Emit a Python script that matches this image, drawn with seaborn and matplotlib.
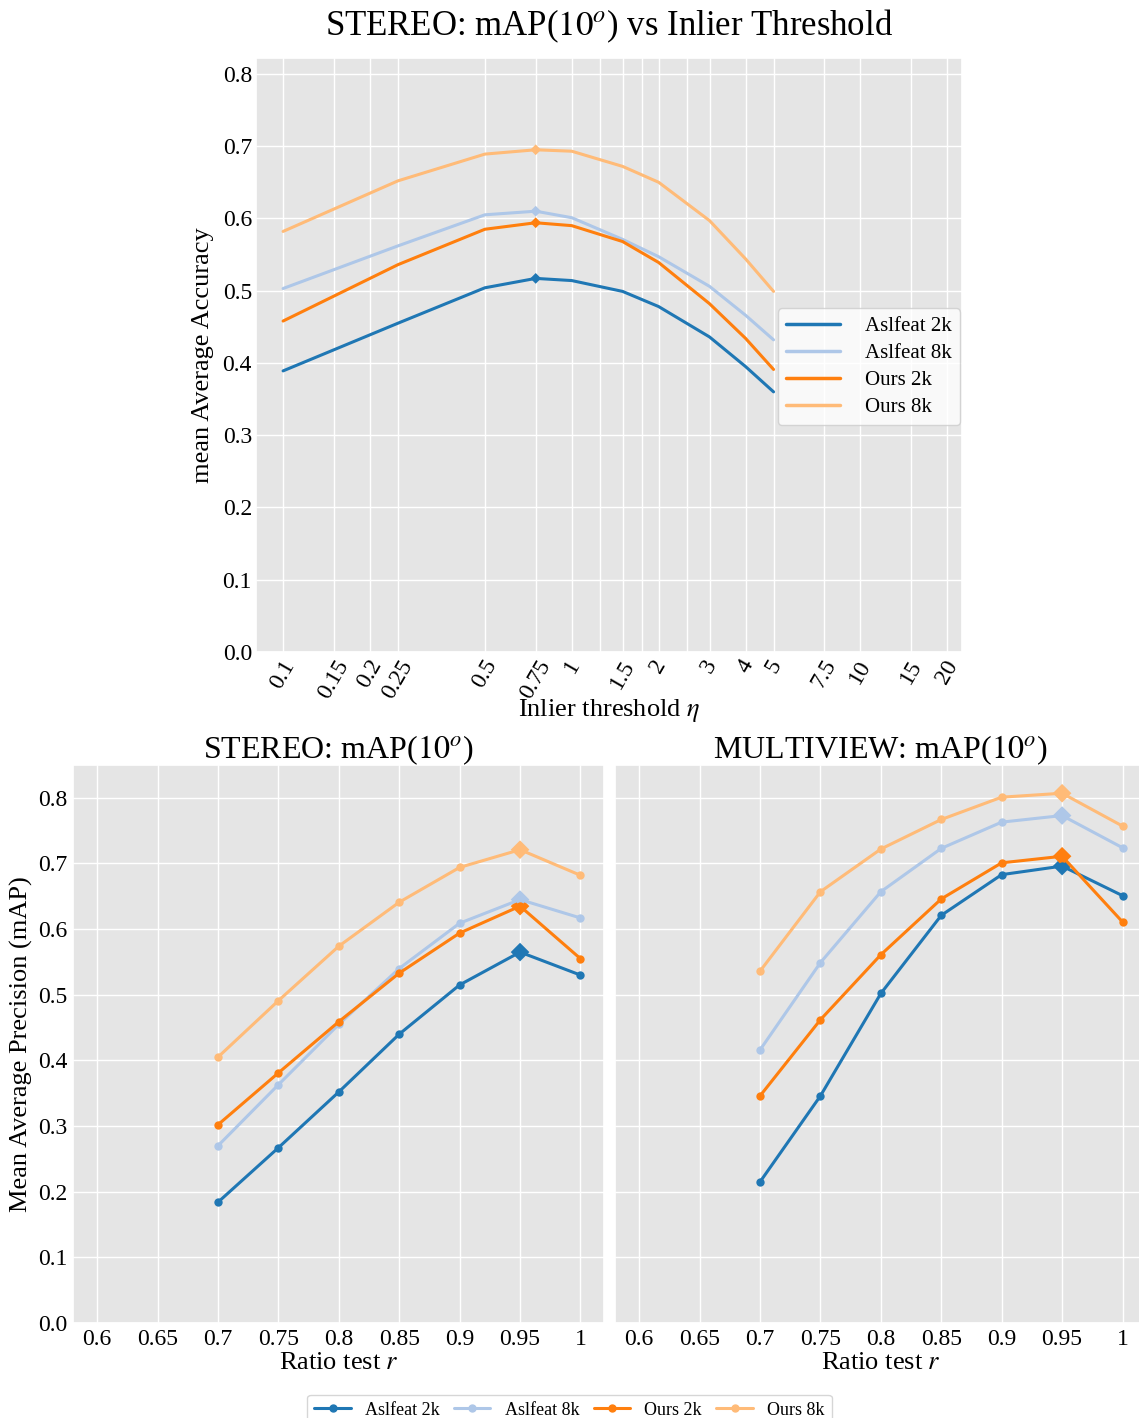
import numpy as np
import pandas as pd
import seaborn as sns
import matplotlib.pyplot as plt
from matplotlib.lines import Line2D

methods = ['Aslfeat 2k', 'Aslfeat 8k', 'Ours 2k', 'Ours 8k']
colors = ['#1f77b4', '#aec7e8', '#ff7f0e', '#ffbb78']

# inlier threshold sweep (stereo)
thr = [0.1, 0.25, 0.5, 0.75, 1, 1.5, 2, 3, 4, 5]
thr_aslfeat_2k = [0.389, 0.455, 0.504, 0.517, 0.514, 0.499, 0.478, 0.436, 0.395, 0.360]
thr_aslfeat_8k = [0.503, 0.562, 0.605, 0.610, 0.601, 0.571, 0.547, 0.506, 0.466, 0.432]
thr_ours_2k = [0.458, 0.536, 0.585, 0.594, 0.590, 0.568, 0.539, 0.482, 0.434, 0.391]
thr_ours_8k = [0.582, 0.652, 0.689, 0.695, 0.693, 0.672, 0.650, 0.597, 0.544, 0.499]

thr_ticks = [0.1, 0.15, 0.2, 0.25, 0.5, 0.75, 1, 1.25, 1.5, 1.75, 2, 2.5, 3, 4, 5, 7.5, 10, 15, 20]
thr_labels = ['0.1', '0.15', '0.2', '0.25', '0.5', '0.75', '1', '', '1.5', '', '2', '', '3', '4', '5',
              '7.5', '10', '15', '20']

# ratio test sweep
ratio = [0.7, 0.75, 0.8, 0.85, 0.9, 0.95, 1.0]
st_aslfeat_2k = [0.184, 0.267, 0.352, 0.440, 0.515, 0.565, 0.530]
st_aslfeat_8k = [0.270, 0.363, 0.455, 0.540, 0.609, 0.645, 0.617]
st_ours_2k = [0.302, 0.381, 0.459, 0.533, 0.594, 0.635, 0.555]
st_ours_8k = [0.405, 0.491, 0.574, 0.641, 0.694, 0.721, 0.682]

mv_aslfeat_2k = [0.215, 0.346, 0.502, 0.621, 0.683, 0.696, 0.651]
mv_aslfeat_8k = [0.416, 0.549, 0.657, 0.723, 0.763, 0.773, 0.724]
mv_ours_2k = [0.346, 0.462, 0.561, 0.646, 0.701, 0.711, 0.611]
mv_ours_8k = [0.536, 0.657, 0.722, 0.767, 0.801, 0.807, 0.757]

ratio_ticks = [0.6, 0.65, 0.7, 0.75, 0.8, 0.85, 0.9, 0.95, 1.0]
ratio_labels = ['0.6', '0.65', '0.7', '0.75', '0.8', '0.85', '0.9', '0.95', '1']


def long_df(x, series):
    rows = []
    for name, vals in zip(methods, series):
        for xv, yv in zip(x, vals):
            rows.append({'x': xv, 'y': yv, 'method': name})
    return pd.DataFrame(rows)


def peaks(df):
    return df.loc[df.groupby('method')['y'].idxmax()]


sns.set_theme(style='darkgrid', rc={'axes.facecolor': '#E5E5E5', 'grid.color': 'white',
                                    'grid.linewidth': 1.0})
plt.rcParams['font.family'] = ['Liberation Serif', 'DejaVu Serif']
plt.rcParams['mathtext.fontset'] = 'stix'
plt.rcParams['text.color'] = 'black'
plt.rcParams['xtick.color'] = 'black'
plt.rcParams['ytick.color'] = 'black'
plt.rcParams['axes.labelcolor'] = 'black'

pal = dict(zip(methods, colors))
fig = plt.figure(figsize=(11.39, 14.18), dpi=100)

# top: inlier threshold
ax = fig.add_axes([0.2248, 0.5402, 0.6199, 0.4189])
df = long_df(thr, [thr_aslfeat_2k, thr_aslfeat_8k, thr_ours_2k, thr_ours_8k])
sns.lineplot(data=df, x='x', y='y', hue='method', palette=pal, linewidth=2.2, ax=ax)
sns.scatterplot(data=peaks(df), x='x', y='y', hue='method', palette=pal, marker='D', s=30,
                linewidth=0, legend=False, ax=ax)
ax.set_xscale('log')
ax.set_xticks(thr_ticks)
ax.set_xticklabels(thr_labels, rotation=60, fontsize=17)
ax.minorticks_off()
ax.set_xlim(0.0806, 22.5)
ax.set_ylim(0, 0.822)
ax.set_yticks(np.arange(0, 0.81, 0.1))
ax.set_yticklabels(['%.1f' % v for v in np.arange(0, 0.81, 0.1)], fontsize=17)
ax.tick_params(axis='both', length=0, pad=3)
ax.set_xlabel('Inlier threshold $\\eta$', fontsize=19, labelpad=-4)
ax.set_ylabel('mean Average Accuracy', fontsize=19, labelpad=6)
ax.set_title('STEREO: mAP($10^o$) vs Inlier Threshold', fontsize=25, pad=16)
leg = ax.legend(loc='center right', bbox_to_anchor=(1.012, 0.48), fontsize=15, frameon=True,
                facecolor='white', edgecolor='#cccccc', handlelength=2.6, labelspacing=0.35,
                handletextpad=1.2)
for h in leg.get_lines():
    h.set_linewidth(2.5)

# bottom: ratio test (right panel runs past the figure edge, as in the original)
axl = fig.add_axes([0.0641, 0.0670, 0.4662, 0.3935])
axr = fig.add_axes([0.5400, 0.0670, 0.4662, 0.3935], sharey=axl)
panels = [
    (axl, 'STEREO: mAP($10^o$)', [st_aslfeat_2k, st_aslfeat_8k, st_ours_2k, st_ours_8k]),
    (axr, 'MULTIVIEW: mAP($10^o$)', [mv_aslfeat_2k, mv_aslfeat_8k, mv_ours_2k, mv_ours_8k]),
]
for a, title, series in panels:
    d = long_df(ratio, series)
    sns.lineplot(data=d, x='x', y='y', hue='method', palette=pal, linewidth=2.2, marker='o',
                 markersize=6, markeredgewidth=0, legend=False, ax=a)
    sns.scatterplot(data=peaks(d), x='x', y='y', hue='method', palette=pal, marker='D', s=90,
                    linewidth=0, legend=False, ax=a)
    a.set_xlim(0.58, 1.0195)
    a.set_ylim(0, 0.85)
    a.set_xticks(ratio_ticks)
    a.set_xticklabels(ratio_labels, fontsize=17)
    a.set_yticks(np.arange(0, 0.81, 0.1))
    a.tick_params(axis='both', length=0, pad=4)
    a.set_xlabel('Ratio test $r$', fontsize=19, labelpad=2)
    a.set_title(title, fontsize=23, pad=5)
axl.set_yticklabels(['%.1f' % v for v in np.arange(0, 0.81, 0.1)], fontsize=17)
axl.set_ylabel('Mean Average Precision (mAP)', fontsize=19)
axr.set_ylabel('')
plt.setp(axr.get_yticklabels(), visible=False)

handles = [Line2D([], [], color=c, linewidth=2.2, marker='o', markersize=5) for c in colors]
fig.legend(handles, methods, loc='lower center', bbox_to_anchor=(0.5, -0.012), ncol=4,
           fontsize=13, frameon=True, facecolor='white', edgecolor='#cccccc',
           handlelength=2.0, columnspacing=0.8, handletextpad=0.8)

fig.savefig('out.png', dpi=100)
